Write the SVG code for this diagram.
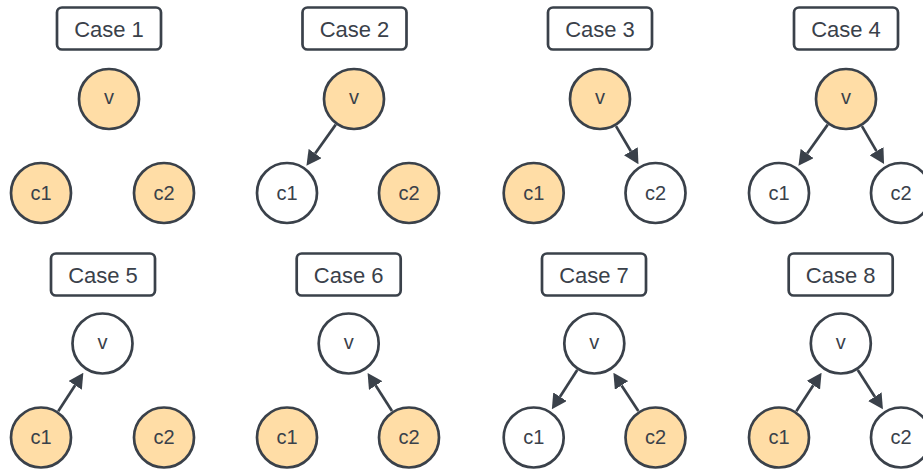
<svg xmlns="http://www.w3.org/2000/svg" width="923" height="470" viewBox="0 0 923 470">
<style>
.box{fill:#ffffff;stroke:#3a414a;stroke-width:2.7}
.n{stroke:#3a414a;stroke-width:2.7}
.on{fill:#ffdda6}
.off{fill:#ffffff}
.lbl{font-family:"Liberation Sans",Arial,sans-serif;font-size:22px;fill:#3a414a;text-anchor:middle}
.t{font-family:"Liberation Sans",Arial,sans-serif;font-size:20px;fill:#3a414a;text-anchor:middle}
.e{stroke:#3a414a;stroke-width:2.7;fill:none;marker-end:url(#ah)}
</style>
<defs>
<marker id="ah" viewBox="0 0 15 16" refX="0" refY="8" markerWidth="15" markerHeight="16" markerUnits="userSpaceOnUse" orient="auto">
<path d="M0,0 L15,8 L0,16 z" fill="#3a414a"/>
</marker>
</defs>
<rect width="923" height="470" fill="#ffffff"/>
<g id="connectors">
<line class="e" x1="335.72" y1="124.65" x2="315.15" y2="153.51"/>
<line class="e" x1="616.01" y1="126.12" x2="630.84" y2="151.23"/>
<line class="e" x1="827.72" y1="124.65" x2="807.15" y2="153.51"/>
<line class="e" x1="861.91" y1="126.19" x2="876.5" y2="151.14"/>
<line class="e" x1="58.25" y1="411.14" x2="75.13" y2="385.34"/>
<line class="e" x1="391.99" y1="410.99" x2="375.7" y2="385.59"/>
<line class="e" x1="577.23" y1="369.98" x2="559.98" y2="396.73"/>
<line class="e" x1="638.31" y1="411.1" x2="621.58" y2="385.4"/>
<line class="e" x1="796.31" y1="411.18" x2="813.33" y2="385.28"/>
<line class="e" x1="857.79" y1="370.03" x2="874.84" y2="396.66"/>
</g>
<g id="case1">
<rect class="box" x="57" y="7.5" width="104" height="42" rx="5"/><text class="lbl" x="109" y="36.7">Case 1</text>
<g id="case1-v"><circle class="n on" cx="109" cy="99" r="30"/><text class="t" x="109" y="104">v</text></g>
<g id="case1-c1"><circle class="n on" cx="41" cy="193" r="30"/><text class="t" x="41" y="199.5">c1</text></g>
<g id="case1-c2"><circle class="n on" cx="164" cy="193" r="30"/><text class="t" x="164" y="199.5">c2</text></g>
</g>
<g id="case2">
<rect class="box" x="302.5" y="7.5" width="104" height="42" rx="5"/><text class="lbl" x="354.5" y="36.7">Case 2</text>
<g id="case2-v"><circle class="n on" cx="354" cy="99" r="30"/><text class="t" x="354" y="104">v</text></g>
<g id="case2-c1"><circle class="n off" cx="287" cy="193" r="30"/><text class="t" x="287" y="199.5">c1</text></g>
<g id="case2-c2"><circle class="n on" cx="409" cy="193" r="30"/><text class="t" x="409" y="199.5">c2</text></g>
</g>
<g id="case3">
<rect class="box" x="548" y="7.5" width="104" height="42" rx="5"/><text class="lbl" x="600" y="36.7">Case 3</text>
<g id="case3-v"><circle class="n on" cx="600" cy="99" r="30"/><text class="t" x="600" y="104">v</text></g>
<g id="case3-c1"><circle class="n on" cx="533.7" cy="193" r="30"/><text class="t" x="533.7" y="199.5">c1</text></g>
<g id="case3-c2"><circle class="n off" cx="655.5" cy="193" r="30"/><text class="t" x="655.5" y="199.5">c2</text></g>
</g>
<g id="case4">
<rect class="box" x="794" y="7.5" width="104" height="42" rx="5"/><text class="lbl" x="846" y="36.7">Case 4</text>
<g id="case4-v"><circle class="n on" cx="846" cy="99" r="30"/><text class="t" x="846" y="104">v</text></g>
<g id="case4-c1"><circle class="n off" cx="779" cy="193" r="30"/><text class="t" x="779" y="199.5">c1</text></g>
<g id="case4-c2"><circle class="n off" cx="901" cy="193" r="30"/><text class="t" x="901" y="199.5">c2</text></g>
</g>
<g id="case5">
<rect class="box" x="51" y="253.5" width="104" height="42" rx="5"/><text class="lbl" x="103" y="283">Case 5</text>
<g id="case5-v"><circle class="n off" cx="102.5" cy="343.5" r="30"/><text class="t" x="102.5" y="348.5">v</text></g>
<g id="case5-c1"><circle class="n on" cx="41" cy="437.5" r="30"/><text class="t" x="41" y="444">c1</text></g>
<g id="case5-c2"><circle class="n on" cx="164" cy="437.5" r="30"/><text class="t" x="164" y="444">c2</text></g>
</g>
<g id="case6">
<rect class="box" x="296.7" y="253.5" width="104" height="42" rx="5"/><text class="lbl" x="348.7" y="283">Case 6</text>
<g id="case6-v"><circle class="n off" cx="348.7" cy="343.5" r="30"/><text class="t" x="348.7" y="348.5">v</text></g>
<g id="case6-c1"><circle class="n on" cx="287" cy="437.5" r="30"/><text class="t" x="287" y="444">c1</text></g>
<g id="case6-c2"><circle class="n on" cx="409" cy="437.5" r="30"/><text class="t" x="409" y="444">c2</text></g>
</g>
<g id="case7">
<rect class="box" x="542" y="253.5" width="104" height="42" rx="5"/><text class="lbl" x="594" y="283">Case 7</text>
<g id="case7-v"><circle class="n off" cx="594.3" cy="343.5" r="30"/><text class="t" x="594.3" y="348.5">v</text></g>
<g id="case7-c1"><circle class="n off" cx="533.7" cy="437.5" r="30"/><text class="t" x="533.7" y="444">c1</text></g>
<g id="case7-c2"><circle class="n on" cx="655.5" cy="437.5" r="30"/><text class="t" x="655.5" y="444">c2</text></g>
</g>
<g id="case8">
<rect class="box" x="788.7" y="253.5" width="104" height="42" rx="5"/><text class="lbl" x="840.7" y="283">Case 8</text>
<g id="case8-v"><circle class="n off" cx="840.8" cy="343.5" r="30"/><text class="t" x="840.8" y="348.5">v</text></g>
<g id="case8-c1"><circle class="n on" cx="779" cy="437.5" r="30"/><text class="t" x="779" y="444">c1</text></g>
<g id="case8-c2"><circle class="n off" cx="901" cy="437.5" r="30"/><text class="t" x="901" y="444">c2</text></g>
</g>
</svg>
